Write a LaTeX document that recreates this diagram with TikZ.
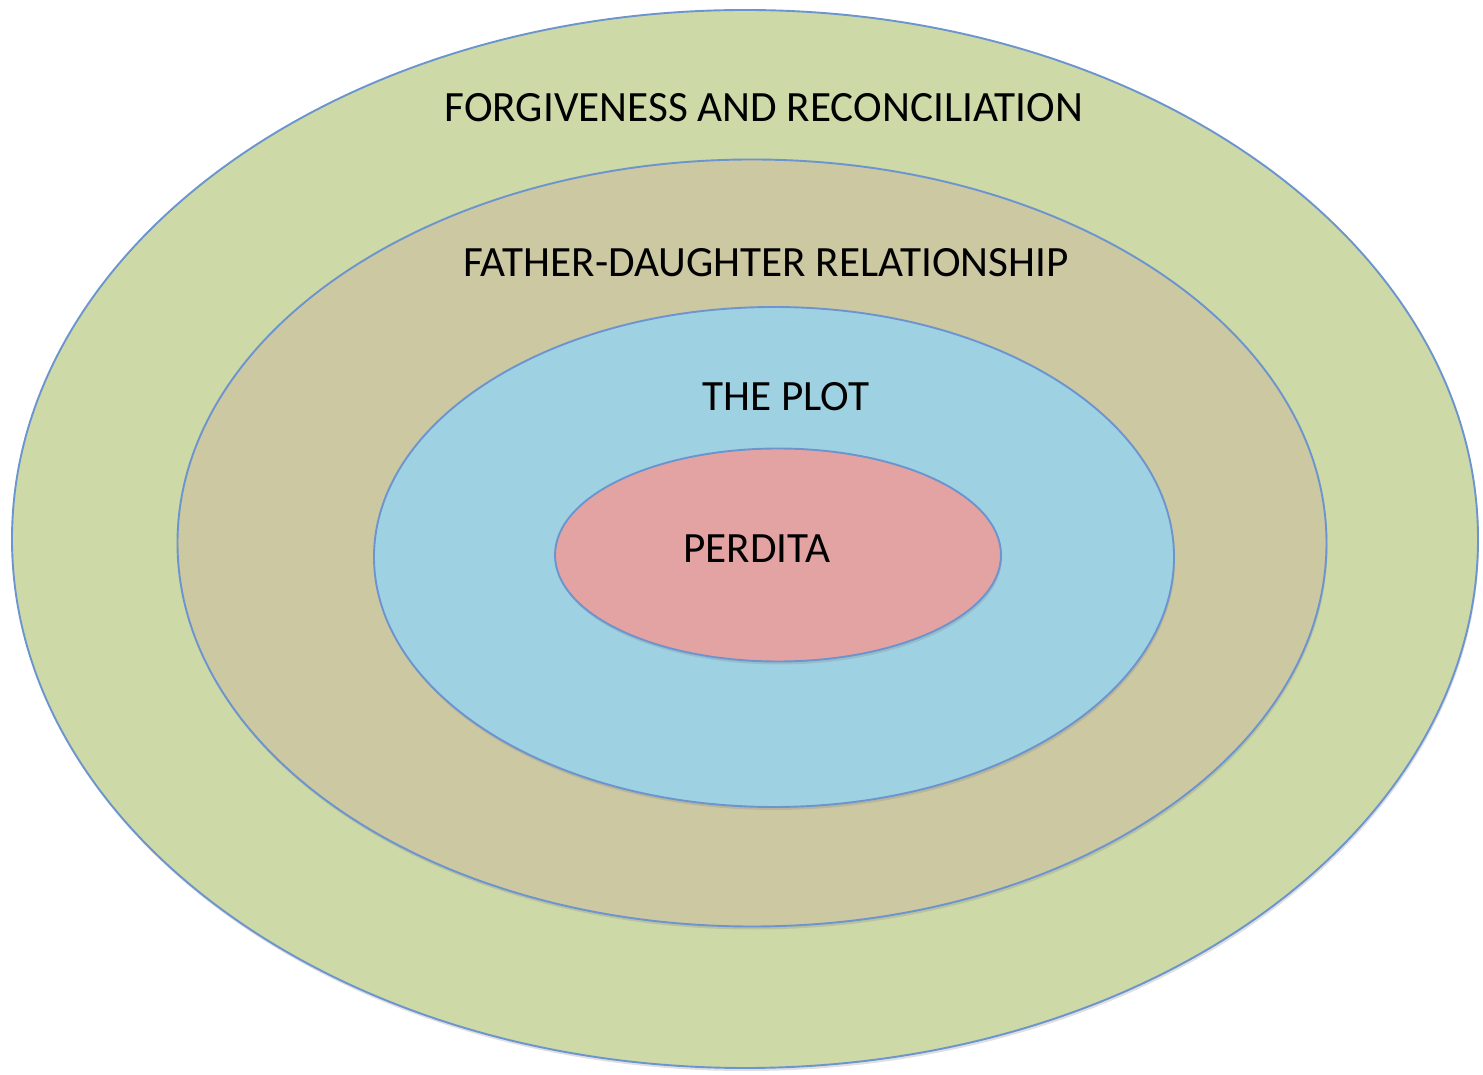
\documentclass[tikz,border=0pt]{standalone}
\usepackage{fontspec}
\setmainfont{Carlito}
\usetikzlibrary{shapes.geometric,shadows}

\definecolor{verde}{RGB}{205,217,167}
\definecolor{arena}{RGB}{204,200,162}
\definecolor{celeste}{RGB}{158,210,227}
\definecolor{rosa}{RGB}{227,163,163}
\definecolor{borde}{RGB}{108,148,206}

\begin{document}
\begin{tikzpicture}[x=1pt, y=1pt,
    anillo/.style={ellipse, draw=borde, line width=1.9pt, inner sep=0pt,
        drop shadow={shadow xshift=1pt, shadow yshift=-3pt, opacity=0.25}},
    rotulo/.style={anchor=base, font=\fontsize{43.2}{48}\selectfont}]

    \useasboundingbox (0,0) rectangle (1483,1074);

    % anillos, de fuera hacia dentro
    \node[anillo, fill=verde, minimum width=1466pt, minimum height=1058pt] (perdon) at (745,535) {};
    \node[anillo, fill=arena, minimum width=1149pt, minimum height=767pt] (padrehija) at (752,531) {};
    \node[anillo, fill=celeste, minimum width=800pt, minimum height=500pt] (trama) at (774,517) {};
    \node[anillo, fill=rosa, minimum width=446pt, minimum height=213pt] (perdita) at (778,519) {};

    \node[rotulo] (tperdon) at (764,952) {FORGIVENESS AND RECONCILIATION};
    \node[rotulo] (tpadrehija) at (766,797.5) {FATHER-DAUGHTER RELATIONSHIP};
    \node[rotulo] (ttrama) at (786,663.5) {THE PLOT};
    \node[rotulo] (tperdita) at (757,511.5) {PERDITA};

\end{tikzpicture}
\end{document}
